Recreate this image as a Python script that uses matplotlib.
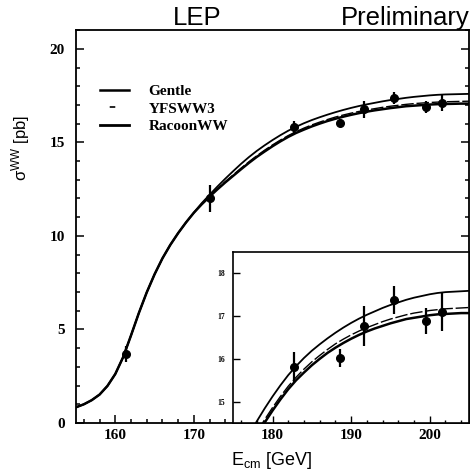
import numpy as np
import matplotlib
matplotlib.use('Agg')
from matplotlib import pyplot as plt
from matplotlib.lines import Line2D
from matplotlib.ticker import MultipleLocator

plt.rcParams['mathtext.default'] = 'regular'
plt.rcParams['lines.scale_dashes'] = False

# LEP measurements
e_data = [161.3, 172.1, 182.7, 188.6, 191.6, 195.5, 199.5, 201.6]
sig_data = [3.69, 12.0, 15.80, 16.02, 16.77, 17.37, 16.88, 17.10]
sig_err = [0.45, 0.72, 0.35, 0.21, 0.46, 0.33, 0.31, 0.45]

# theory curves (1 GeV steps)
e_curve = [155, 156, 157, 158, 159, 160, 161, 162, 163, 164,
           165, 166, 167, 168, 169, 170, 171, 172, 173, 174,
           175, 176, 177, 178, 179, 180, 181, 182, 183, 184,
           185, 186, 187, 188, 189, 190, 191, 192, 193, 194,
           195, 196, 197, 198, 199, 200, 201, 202, 203, 204, 205]
sig_gentle = [0.84, 1.00, 1.22, 1.52, 1.98, 2.62, 3.52, 4.68, 5.88, 6.98,
              7.95, 8.80, 9.52, 10.15, 10.72, 11.24, 11.75, 12.20, 12.64, 13.06,
              13.46, 13.85, 14.21, 14.54, 14.84, 15.12, 15.38, 15.62, 15.83, 16.02,
              16.19, 16.34, 16.48, 16.61, 16.73, 16.84, 16.94, 17.03, 17.11, 17.19,
              17.26, 17.32, 17.38, 17.43, 17.47, 17.51, 17.54, 17.56, 17.57, 17.58, 17.59]
sig_yfsww = [0.84, 1.00, 1.22, 1.52, 1.98, 2.62, 3.52, 4.68, 5.88, 6.98,
             7.95, 8.80, 9.52, 10.15, 10.72, 11.24, 11.70, 12.12, 12.52, 12.90,
             13.26, 13.62, 13.96, 14.28, 14.58, 14.86, 15.12, 15.36, 15.57, 15.76,
             15.93, 16.08, 16.22, 16.35, 16.46, 16.56, 16.65, 16.73, 16.80, 16.87,
             16.93, 16.98, 17.03, 17.07, 17.10, 17.13, 17.15, 17.17, 17.18, 17.19, 17.20]
sig_racoon = [0.84, 1.00, 1.22, 1.52, 1.98, 2.62, 3.52, 4.68, 5.88, 6.98,
              7.95, 8.80, 9.52, 10.15, 10.72, 11.24, 11.69, 12.10, 12.49, 12.86,
              13.21, 13.56, 13.90, 14.22, 14.51, 14.79, 15.05, 15.29, 15.50, 15.68,
              15.85, 16.00, 16.14, 16.26, 16.37, 16.47, 16.56, 16.64, 16.71, 16.77,
              16.83, 16.88, 16.93, 16.96, 16.99, 17.02, 17.04, 17.05, 17.06, 17.07, 17.07]

labels = ['Gentle', 'YFSWW3', 'RacoonWW']

yfs_ls = (0, (9, 2))


def draw_curves(ax):
    ax.plot(e_curve, sig_gentle, color='black', lw=1.3)
    ax.plot(e_curve, sig_yfsww, color='black', lw=1.0, ls=yfs_ls)
    ax.plot(e_curve, sig_racoon, color='black', lw=1.8)
    ax.errorbar(e_data, sig_data, yerr=sig_err, fmt='o', color='black',
                ms=5.5, elinewidth=1.6, capsize=0, zorder=5)


def bold_serif(labs):
    for lab in labs:
        lab.set_fontfamily('Liberation Serif')
        lab.set_fontweight('bold')


fig = plt.figure(figsize=(4.7, 4.7), dpi=100)
ax = fig.add_axes([0.1617, 0.1, 0.836, 0.836])
draw_curves(ax)
ax.set_xlim(155, 205)
ax.set_ylim(0, 21)
ax.xaxis.set_major_locator(MultipleLocator(10))
ax.xaxis.set_minor_locator(MultipleLocator(2))
ax.yaxis.set_major_locator(MultipleLocator(5))
ax.yaxis.set_minor_locator(MultipleLocator(1))
ax.tick_params(which='both', direction='in', top=False, right=True, width=1.1)
ax.tick_params(which='major', length=6, labelsize=11)
ax.tick_params(axis='y', which='major', pad=8)
ax.tick_params(axis='x', which='major', pad=4)
ax.tick_params(which='minor', length=3)
bold_serif(ax.get_xticklabels() + ax.get_yticklabels())
for sp in ax.spines.values():
    sp.set_linewidth(1.3)

ax.set_xlabel('E$_{cm}$ [GeV]', fontsize=13, family='Liberation Sans')
ax.xaxis.set_label_coords(0.499, -0.068)
ax.set_ylabel('σ$^{WW}$ [pb]', fontsize=12, family='Liberation Sans')
ax.yaxis.set_label_coords(-0.112, 0.70)

handles = [Line2D([], [], color='black', lw=1.8),
           Line2D([], [], color='black', lw=1.2, ls=(27, (4, 30))),
           Line2D([], [], color='black', lw=2.0)]
ax.legend(handles, labels, loc='upper left', bbox_to_anchor=(0.06, 0.862),
          frameon=False, handlelength=1.9, handletextpad=1.3,
          labelspacing=0.25, borderpad=0, borderaxespad=0,
          prop=dict(family='Liberation Serif', weight='bold', size=11))

# inset, same energy scale as the main frame
axi = fig.add_axes([0.4962, 0.1, 0.5018, 0.364])
draw_curves(axi)
axi.set_xlim(175, 205)
axi.set_ylim(14.5, 18.5)
axi.yaxis.set_major_locator(MultipleLocator(1))
axi.xaxis.set_major_locator(MultipleLocator(10))
axi.xaxis.set_minor_locator(MultipleLocator(2))
axi.tick_params(which='both', direction='in', labelbottom=False, width=1.0)
axi.tick_params(which='major', length=5, labelsize=5.5, pad=6)
axi.tick_params(which='minor', length=2.5)
bold_serif(axi.get_yticklabels())
for sp in axi.spines.values():
    sp.set_linewidth(1.2)

fig.text(0.419, 0.962, 'LEP', fontsize=18.5, family='Liberation Sans',
         ha='center', va='center')
fig.text(1.0, 0.962, 'Preliminary', fontsize=18.5, family='Liberation Sans',
         ha='right', va='center')

fig.savefig('out.png', dpi=100)
plt.close(fig)
